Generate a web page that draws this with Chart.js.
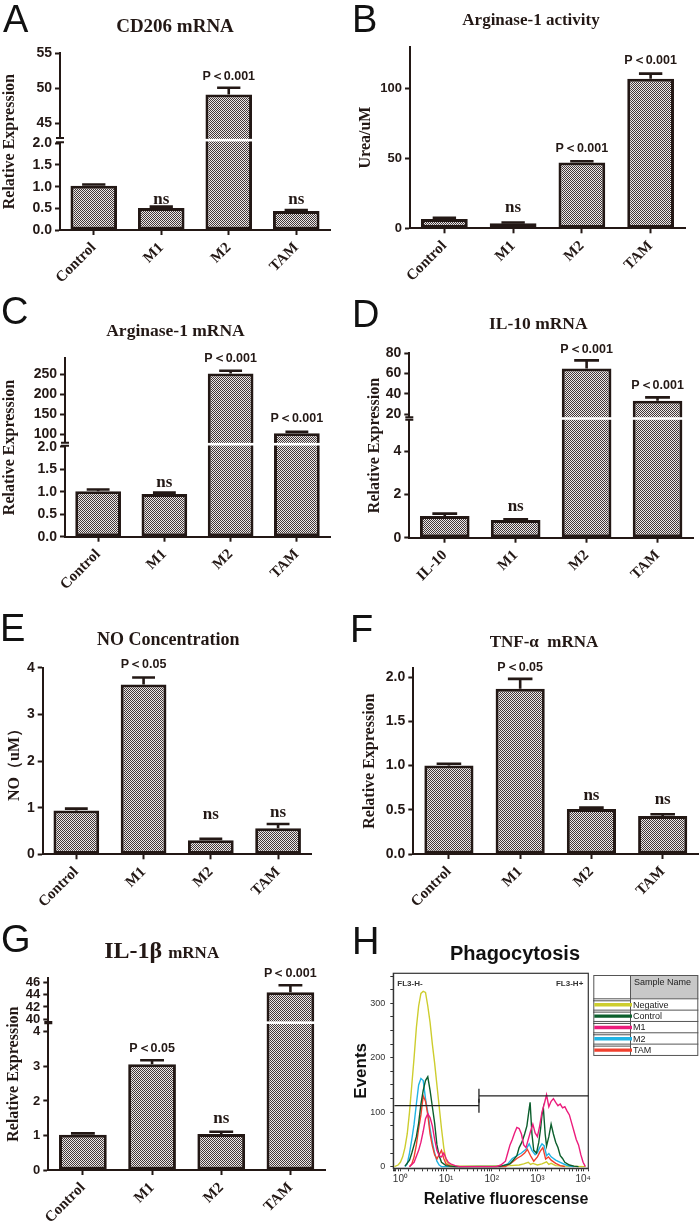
<!DOCTYPE html>
<html><head><meta charset="utf-8">
<script src="https://cdn.jsdelivr.net/npm/chart.js@4.4.1/dist/chart.umd.min.js"></script>
<style>
html,body{margin:0;padding:0;background:#fff;}
#fig{position:relative;width:700px;height:1222px;overflow:hidden;background:#fff;}
#fig canvas{position:absolute;}
.lbl{position:absolute;font-family:"Liberation Sans",Arial,sans-serif;font-size:38px;line-height:38px;color:#111;white-space:nowrap;}
.ttl{position:absolute;font-family:"Liberation Serif","Times New Roman",serif;font-weight:bold;color:#231815;white-space:nowrap;transform:translateX(-50%);}
</style></head><body>
<div id="fig">
<canvas id="cA" width="350" height="290" style="left:0px;top:0px"></canvas>
<canvas id="cB" width="350" height="290" style="left:350px;top:0px"></canvas>
<canvas id="cC" width="350" height="310" style="left:0px;top:290px"></canvas>
<canvas id="cD" width="350" height="310" style="left:350px;top:290px"></canvas>
<canvas id="cE" width="350" height="310" style="left:0px;top:600px"></canvas>
<canvas id="cF" width="350" height="310" style="left:350px;top:600px"></canvas>
<canvas id="cG" width="350" height="312" style="left:0px;top:910px"></canvas>
<canvas id="cH" width="350" height="312" style="left:350px;top:910px"></canvas>

<div class="lbl" style="left:3px;top:0px">A</div>
<div class="lbl" style="left:352px;top:0px">B</div>
<div class="lbl" style="left:1px;top:292px">C</div>
<div class="lbl" style="left:352px;top:295px">D</div>
<div class="lbl" style="left:0px;top:609px">E</div>
<div class="lbl" style="left:350px;top:610px">F</div>
<div class="lbl" style="left:1px;top:920px">G</div>
<div class="lbl" style="left:352px;top:922px">H</div>

<div class="ttl" style="left:175px;top:15.8px;font-size:19px;line-height:19px">CD206 mRNA</div>
<div class="ttl" style="left:531px;top:10.8px;font-size:17px;line-height:17px">Arginase-1 activity</div>
<div class="ttl" style="left:175.5px;top:322px;font-size:17.5px;line-height:17.5px">Arginase-1 mRNA</div>
<div class="ttl" style="left:538.3px;top:315.3px;font-size:17.5px;line-height:17.5px">IL-10 mRNA</div>
<div class="ttl" style="left:168.3px;top:629.9px;font-size:18px;line-height:18px">NO Concentration</div>
<div class="ttl" style="left:544px;top:632.5px;font-size:17px;line-height:17px">TNF-α&nbsp; mRNA</div>
<div class="ttl" style="left:161.7px;top:938.2px;font-size:24px;line-height:24px">IL-1β <span style="font-size:17px;line-height:1">mRNA</span></div>
<div class="ttl" style="left:515px;top:943.1px;font-size:20px;line-height:20px;font-family:'Liberation Sans',Arial,sans-serif;color:#111">Phagocytosis</div>
</div>
<script>
// ================= DATA =================
const catsStd = ['Control', 'M1', 'M2', 'TAM'];
const catsIL10 = ['IL-10', 'M1', 'M2', 'TAM'];

// A  CD206 mRNA
const valA = [1.02, 0.51, 49.1, 0.44];
const semA = [0.03, 0.03, 0.95, 0.02];
const annA = ['', 'ns', 'P＜0.001', 'ns'];
const annYA = [0, 0.6, 51.2, 0.6];
const ticksA = [0, 0.5, 1.0, 1.5, 2.0, 45, 50, 55];
const tickLblA = ['0.0', '0.5', '1.0', '1.5', '2.0', '45', '50', '55'];

// B  Arginase-1 activity
const valB = [6.6, 3.6, 47.1, 107.1];
const semB = [1.0, 0.5, 0.9, 3.6];
const annB = ['', 'ns', 'P＜0.001', 'P＜0.001'];
const annYB = [0, 11.4, 54.7, 117.4];
const ticksB = [0, 50, 100];
const tickLblB = ['0', '50', '100'];

// C  Arginase-1 mRNA
const valC = [1.01, 0.95, 252, 103];
const semC = [0.04, 0.03, 7, 3.5];
const annC = ['', 'ns', 'P＜0.001', 'P＜0.001'];
const annYC = [0, 1.11, 281.5, 130.4];
const ticksC = [0, 0.5, 1.0, 1.5, 2.0, 100, 150, 200, 250];
const tickLblC = ['0.0', '0.5', '1.0', '1.5', '2.0', '100', '150', '200', '250'];

// D  IL-10 mRNA
const valD = [1.0, 0.82, 65, 33.3];
const semD = [0.11, 0.03, 8, 3.3];
const annD = ['', 'ns', 'P＜0.001', 'P＜0.001'];
const annYD = [0, 1.25, 80.6, 44.6];
const ticksD = [0, 2, 4, 20, 40, 60, 80];
const tickLblD = ['0', '2', '4', '20', '40', '60', '80'];

// E  NO Concentration
const valE = [0.94, 3.64, 0.3, 0.56];
const semE = [0.04, 0.15, 0.03, 0.09];
const annE = ['', 'P＜0.05', 'ns', 'ns'];
const annYE = [0, 4.0, 0.756, 0.806];
const ticksE = [0, 1, 2, 3, 4];
const tickLblE = ['0', '1', '2', '3', '4'];

// F  TNF-a mRNA
const valF = [1.0, 1.87, 0.51, 0.43];
const semF = [0.02, 0.11, 0.015, 0.02];
const annF = ['', 'P＜0.05', 'ns', 'ns'];
const annYF = [0, 2.067, 0.609, 0.564];
const ticksF = [0, 0.5, 1.0, 1.5, 2.0];
const tickLblF = ['0.0', '0.5', '1.0', '1.5', '2.0'];

// G  IL-1b mRNA
const valG = [1.02, 3.06, 1.04, 44.4];
const semG = [0.04, 0.12, 0.07, 1.15];
const annG = ['', 'P＜0.05', 'ns', 'P＜0.001'];
const annYG = [0, 3.43, 1.35, 46.96];
const ticksG = [0, 1, 2, 3, 4, 40, 42, 44, 46];
const tickLblG = ['0', '1', '2', '3', '4', '40', '42', '44', '46'];

// H  Phagocytosis histograms: position in decades (log10 of fluorescence) and event counts
const negD = [-0.13,-0.05,0.0,0.05,0.1,0.15,0.2,0.25,0.3,0.35,0.4,0.45,0.5,0.55,0.6,0.65,0.7,0.75,0.8,0.85,0.9,0.95,1.0,1.05,1.1,1.2,1.5,2.0,2.4,2.6,2.7,2.8,2.85,2.9,3.0,3.1,3.2,3.25,3.3,3.4,3.6,4.05];
const negV = [0,3,8,18,35,60,100,150,200,255,295,318,322,320,295,265,225,190,150,110,70,35,12,5,3,1,1,1,2,3,5,8,4,6,3,5,9,4,6,2,1,0];
const ctrlD = [0.1,0.2,0.25,0.3,0.35,0.4,0.45,0.5,0.55,0.6,0.65,0.7,0.75,0.8,0.85,0.9,1.0,1.2,2.2,2.4,2.5,2.55,2.6,2.66,2.72,2.77,2.81,2.84,2.88,2.92,2.98,3.03,3.07,3.1,3.13,3.17,3.2,3.25,3.3,3.35,3.4,3.45,3.5,3.55,3.6,3.7,3.8,3.9];
const ctrlV = [1,12,25,40,55,80,115,140,158,165,140,110,80,40,20,8,2,0,1,5,15,20,35,45,60,75,100,118,60,30,25,45,70,95,108,60,38,55,78,60,45,35,20,15,8,3,1,0];
const m1D = [0.2,0.3,0.4,0.45,0.5,0.55,0.6,0.65,0.7,0.75,0.8,0.85,0.9,0.95,1.0,1.05,1.1,1.2,1.3,2.1,2.2,2.3,2.35,2.4,2.45,2.5,2.55,2.6,2.65,2.7,2.75,2.8,2.85,2.9,2.95,3.0,3.05,3.1,3.15,3.2,3.25,3.3,3.35,3.4,3.45,3.5,3.55,3.6,3.65,3.7,3.75,3.8,3.85,3.9,3.95,4.0,4.05];
const m1V = [0,8,30,45,65,88,97,90,75,50,30,20,18,25,15,8,5,2,0,0,3,10,25,40,50,62,72,70,60,40,35,50,65,78,62,55,75,100,115,132,110,120,125,118,112,115,108,110,102,95,80,65,50,40,22,8,0];
const m2D = [0.1,0.15,0.2,0.25,0.3,0.35,0.4,0.45,0.5,0.55,0.6,0.65,0.7,0.75,0.8,0.85,0.9,2.2,2.35,2.45,2.55,2.65,2.75,2.82,2.88,2.95,3.0,3.05,3.1,3.15,3.2,3.25,3.3,3.4,3.5,3.6,3.7,3.8];
const m2V = [0,5,25,50,78,115,150,162,158,125,100,70,45,25,10,3,0,0,5,15,20,25,32,42,30,22,26,35,42,38,20,24,18,12,8,4,1,0];
const tamD = [0.2,0.25,0.3,0.35,0.4,0.45,0.5,0.55,0.6,0.65,0.7,0.75,0.8,0.85,0.9,0.95,1.0,1.1,2.3,2.45,2.55,2.65,2.72,2.78,2.85,2.92,3.0,3.06,3.12,3.18,3.24,3.3,3.4,3.5,3.6];
const tamV = [0,5,18,40,70,95,130,120,95,60,38,22,14,22,30,15,5,0,0,8,15,20,25,32,20,10,18,28,35,14,18,12,6,2,0];
const hNames = ['Negative', 'Control', 'M1', 'M2', 'TAM'];
const hColors = ['#cdcd2e', '#0b5e2c', '#ec1c7c', '#20b4e4', '#f0402e'];
const hDecades = [negD, ctrlD, m1D, m2D, tamD];
const hCounts = [negV, ctrlV, m1V, m2V, tamV];
const hTopFirst = ['M1', 'Control', 'TAM', 'M2', 'Negative'];
const hYTicks = [0,25,50,75,100,125,150,175,200,225,250,275,300,325,350];
const hXLabels = {0: '10⁰', 1: '10¹', 2: '10²', 3: '10³', 4: '10⁴'};
const hGates = [
  {label: 'FL3-H-', from: 0.74, to: 52.5, y: 112, tick: 'end', side: 'left'},
  {label: 'FL3-H+', from: 52.5, to: 13000, y: 130, tick: 'start', side: 'right'}
];

// ================= RENDERING =================
const SERIF = '"Liberation Serif", "Times New Roman", serif';
const SANS = '"Liberation Sans", Arial, Helvetica, sans-serif';
const INK = '#231815';
Chart.defaults.font.family = SANS;
Chart.defaults.color = INK;
Chart.defaults.animation = false;

const BRK = {};
const PANELS = {};

class BrokenScale extends Chart.LinearScale {
  buildTicks() {
    this.start = this.min; this.end = this.max;
    const p = PANELS[this.chart.canvas.id];
    return p.ticks.map(v => ({value: v}));
  }
  _segs(b) {
    const h = this.bottom - this.top;
    const lowPix = this.bottom - h * b.lowFrac;
    return {lowPix, highPix: lowPix - b.gap};
  }
  getPixelForValue(v) {
    const b = BRK[this.chart.canvas.id];
    if (!b) return super.getPixelForValue(v);
    const {lowPix, highPix} = this._segs(b);
    if (v <= b.low) return this.bottom - (v - this.min) / (b.low - this.min) * (this.bottom - lowPix);
    if (v >= b.high) return highPix - (v - b.high) / (this.max - b.high) * (highPix - this.top);
    return lowPix - (v - b.low) / (b.high - b.low) * (lowPix - highPix);
  }
  getValueForPixel(p) {
    const b = BRK[this.chart.canvas.id];
    if (!b) return super.getValueForPixel(p);
    const {lowPix, highPix} = this._segs(b);
    if (p >= lowPix) return this.min + (this.bottom - p) / (this.bottom - lowPix) * (b.low - this.min);
    if (p <= highPix) return b.high + (highPix - p) / (highPix - this.top) * (this.max - b.high);
    return b.low + (lowPix - p) / (lowPix - highPix) * (b.high - b.low);
  }
}
BrokenScale.id = 'broken';
BrokenScale.defaults = {};
Chart.register(BrokenScale);

function makePattern(ctx) {
  const c = document.createElement('canvas'); c.width = 2; c.height = 2;
  const g = c.getContext('2d');
  g.fillStyle = '#ebe9e9'; g.fillRect(0, 0, 2, 2);
  g.fillStyle = '#433737'; g.fillRect(0, 0, 1, 1); g.fillRect(1, 1, 1, 1);
  return ctx.createPattern(c, 'repeat');
}

const barExtras = {
  id: 'barExtras',
  afterDatasetsDraw(chart) {
    const id = chart.canvas.id, P = PANELS[id], b = BRK[id];
    const ctx = chart.ctx, ys = chart.scales.y, a = chart.chartArea;
    const meta = chart.getDatasetMeta(0);
    ctx.save();
    // error bars (mean + SEM, upper only)
    ctx.strokeStyle = INK; ctx.lineWidth = 2.6; ctx.lineCap = 'butt';
    meta.data.forEach((el, i) => {
      const top = ys.getPixelForValue(P.values[i] + P.sem[i]);
      const half = el.width * 0.25;
      ctx.beginPath();
      ctx.moveTo(el.x, el.y); ctx.lineTo(el.x, top);
      ctx.moveTo(el.x - half, top); ctx.lineTo(el.x + half, top);
      ctx.stroke();
    });
    // axis break
    if (b) {
      const lowPix = ys.getPixelForValue(b.low), highPix = ys.getPixelForValue(b.high);
      const mid = (lowPix + highPix) / 2;
      ctx.fillStyle = '#fff';
      meta.data.forEach((el, i) => {
        if (P.values[i] > b.low) ctx.fillRect(el.x - el.width / 2 - 1, mid - 1.3, el.width + 2, 2.6);
      });
      ctx.fillRect(a.left - 3, highPix + 1, 6, lowPix - highPix - 2);
      ctx.strokeStyle = INK; ctx.lineWidth = 2;
      ctx.beginPath();
      ctx.moveTo(a.left - 4, highPix + 1); ctx.lineTo(a.left + 4, highPix + 1);
      ctx.moveTo(a.left - 4, lowPix - 1); ctx.lineTo(a.left + 4, lowPix - 1);
      ctx.stroke();
    }
    // significance labels
    ctx.fillStyle = INK; ctx.textAlign = 'center'; ctx.textBaseline = 'alphabetic';
    meta.data.forEach((el, i) => {
      const t = P.ann[i];
      if (!t) return;
      ctx.font = t === 'ns' ? 'bold 17px ' + SERIF : 'bold 12.5px ' + SANS;
      ctx.fillText(t, el.x, ys.getPixelForValue(P.annY[i]));
    });
    ctx.restore();
  }
};

function barChart(id, p) {
  PANELS[id] = p;
  if (p.brk) BRK[id] = p.brk;
  const cv = document.getElementById(id);
  const ctx = cv.getContext('2d');
  const axisGrid = {drawOnChartArea: false, drawTicks: true, tickLength: 5, tickWidth: 2, tickColor: INK, offset: false};
  const axisBorder = {display: true, color: INK, width: 2};
  return new Chart(ctx, {
    type: 'bar',
    data: {labels: p.cats, datasets: [{
      data: p.values, backgroundColor: makePattern(ctx), borderColor: INK, borderWidth: 3,
      borderSkipped: false, categoryPercentage: p.catPct, barPercentage: 1
    }]},
    options: {
      responsive: false, animation: false, events: [],
      layout: {autoPadding: false, padding: {left: 0, top: p.padTop, right: p.padRight, bottom: 0}},
      plugins: {legend: {display: false}, tooltip: {enabled: false}, title: {display: false}},
      scales: {
        x: {
          type: 'category', grid: axisGrid, border: axisBorder,
          ticks: {font: {family: SERIF, size: 15, weight: 'bold'}, color: INK, minRotation: 45, maxRotation: 45, padding: 4, autoSkip: false},
          afterFit: s => { s.height = p.xH; s.paddingLeft = s.paddingRight = 0; }
        },
        y: {
          type: 'broken', position: 'left', min: 0, max: p.max, grid: axisGrid, border: axisBorder,
          ticks: {font: {family: SANS, size: p.tickSize, weight: 'bold'}, color: INK, padding: 3, autoSkip: false,
                  callback: (v, i) => p.tickLabels[i]},
          title: {display: true, text: p.yTitle, color: INK, font: {family: SERIF, size: 16, weight: 'bold'}, padding: {top: p.yTitlePad, bottom: 0}},
          afterFit: s => { s.width = p.yW; s.paddingTop = s.paddingBottom = 0; }
        }
      }
    },
    plugins: [barExtras]
  });
}

barChart('cA', {cats: catsStd, values: valA, sem: semA, ann: annA, annY: annYA, ticks: ticksA, tickLabels: tickLblA,
  max: 55, brk: {low: 2, high: 43, lowFrac: 0.4907, gap: 6.3}, yTitle: 'Relative Expression',
  yW: 60, xH: 60, padTop: 53.3, padRight: 20, yTitlePad: 0.4, catPct: 0.69, tickSize: 14});
barChart('cB', {cats: catsStd, values: valB, sem: semB, ann: annB, annY: annYB, ticks: ticksB, tickLabels: tickLblB,
  max: 130, brk: null, yTitle: 'Urea/uM',
  yW: 60, xH: 61.7, padTop: 46.7, padRight: 15, yTitlePad: 6.4, catPct: 0.68, tickSize: 13});
barChart('cC', {cats: catsStd, values: valC, sem: semC, ann: annC, annY: annYC, ticks: ticksC, tickLabels: tickLblC,
  max: 290, brk: {low: 2, high: 82, lowFrac: 0.5045, gap: 5}, yTitle: 'Relative Expression',
  yW: 65, xH: 63.3, padTop: 68.3, padRight: 20, yTitlePad: 0.4, catPct: 0.69, tickSize: 14});
barChart('cD', {cats: catsIL10, values: valD, sem: semD, ann: annD, annY: annYD, ticks: ticksD, tickLabels: tickLblD,
  max: 80, brk: {low: 5.4, high: 18, lowFrac: 0.6345, gap: 4.4}, yTitle: 'Relative Expression',
  yW: 59.3, xH: 62.3, padTop: 63.3, padRight: 7, yTitlePad: 15.4, catPct: 0.70, tickSize: 14});
barChart('cE', {cats: catsStd, values: valE, sem: semE, ann: annE, annY: annYE, ticks: ticksE, tickLabels: tickLblE,
  max: 4, brk: null, yTitle: 'NO（uM）',
  yW: 42.7, xH: 55.7, padTop: 67.7, padRight: 38.3, yTitlePad: 5.4, catPct: 0.68, tickSize: 14});
barChart('cF', {cats: catsStd, values: valF, sem: semF, ann: annF, annY: annYF, ticks: ticksF, tickLabels: tickLblF,
  max: 2.1, brk: null, yTitle: 'Relative Expression',
  yW: 63.3, xH: 56, padTop: 68.3, padRight: 1.7, yTitlePad: 10.4, catPct: 0.69, tickSize: 14});
barChart('cG', {cats: catsStd, values: valG, sem: semG, ann: annG, annY: annYG, ticks: ticksG, tickLabels: tickLblG,
  max: 46.7, brk: {low: 4.22, high: 39.7, lowFrac: 0.76, gap: 3.3}, yTitle: 'Relative Expression',
  yW: 48.3, xH: 52, padTop: 68.3, padRight: 25, yTitlePad: 3.9, catPct: 0.69, tickSize: 13});

// ---------- Panel H ----------
const hExtras = {
  id: 'hExtras',
  afterDraw(chart) {
    const {ctx, chartArea: a} = chart;
    const x = chart.scales.x, y = chart.scales.y;
    ctx.save();
    ctx.strokeStyle = '#333'; ctx.lineWidth = 1.2;
    ctx.strokeRect(a.left, a.top, a.right - a.left, a.bottom - a.top);
    // gates
    hGates.forEach(g => {
      const x1 = x.getPixelForValue(g.from), x2 = x.getPixelForValue(g.to), yy = y.getPixelForValue(g.y);
      ctx.strokeStyle = '#222'; ctx.lineWidth = 1.3;
      ctx.beginPath(); ctx.moveTo(x1, yy); ctx.lineTo(x2, yy);
      const tx = g.tick === 'end' ? x2 : x1;
      ctx.moveTo(tx, yy - 7); ctx.lineTo(tx, yy + 7); ctx.stroke();
      ctx.font = 'bold 8px ' + SANS; ctx.fillStyle = '#333'; ctx.textBaseline = 'alphabetic';
      ctx.textAlign = g.side === 'left' ? 'left' : 'right';
      ctx.fillText(g.label, g.side === 'left' ? a.left + 4 : a.right - 5, a.top + 13);
    });
    // legend table
    const x0 = 243.3, x1 = 348.3, xs = 280, y0 = 65, yh = 88.3, rh = 11.33;
    const y1 = yh + rh * hNames.length;
    ctx.fillStyle = '#c8c8c8'; ctx.fillRect(xs, y0, x1 - xs, yh - y0);
    ctx.strokeStyle = '#555'; ctx.lineWidth = 1;
    ctx.strokeRect(x0 + 0.5, y0 + 0.5, x1 - x0 - 1, y1 - y0);
    ctx.beginPath(); ctx.moveTo(xs + 0.5, y0); ctx.lineTo(xs + 0.5, y1); ctx.stroke();
    ctx.font = '9px ' + SANS; ctx.fillStyle = '#222'; ctx.textAlign = 'left'; ctx.textBaseline = 'alphabetic';
    ctx.fillText('Sample Name', xs + 4, y0 + 9.5);
    hNames.forEach((n, i) => {
      const ry = yh + i * rh;
      ctx.strokeStyle = '#555'; ctx.lineWidth = 1;
      ctx.beginPath(); ctx.moveTo(x0, ry + 0.5); ctx.lineTo(x1, ry + 0.5); ctx.stroke();
      ctx.strokeStyle = '#222'; ctx.lineWidth = 0.8;
      ctx.beginPath(); ctx.moveTo(x0, ry + 2.5); ctx.lineTo(xs, ry + 2.5); ctx.stroke();
      ctx.strokeStyle = hColors[i]; ctx.lineWidth = 3.4;
      ctx.beginPath(); ctx.moveTo(x0 + 1, ry + 6.5); ctx.lineTo(xs + 2, ry + 6.5); ctx.stroke();
      ctx.fillStyle = '#222';
      ctx.fillText(n, xs + 3, ry + 9.3);
    });
    ctx.restore();
  }
};

const hDatasets = hTopFirst.map(name => {
  const i = hNames.indexOf(name);
  return {
    label: name,
    data: hDecades[i].map((d, k) => ({x: Math.pow(10, d), y: hCounts[i][k]})),
    borderColor: hColors[i], borderWidth: 1.4, pointRadius: 0, tension: 0, fill: false
  };
});

new Chart(document.getElementById('cH').getContext('2d'), {
  type: 'line',
  data: {datasets: hDatasets},
  options: {
    responsive: false, animation: false, events: [],
    layout: {autoPadding: false, padding: {left: 0, top: 63.3, right: 111.7, bottom: 0}},
    plugins: {legend: {display: false}, tooltip: {enabled: false}},
    scales: {
      x: {
        type: 'logarithmic', min: 0.74, max: 13000,
        grid: {drawOnChartArea: false, drawTicks: true, tickLength: 3, tickWidth: 1, tickColor: '#333'},
        border: {display: true, color: '#333', width: 1.2},
        ticks: {autoSkip: false, maxRotation: 0, minRotation: 0, font: {family: SANS, size: 10}, color: '#333', padding: 2,
          callback: v => { const e = Math.log10(v); return Math.abs(e - Math.round(e)) < 1e-6 && hXLabels[Math.round(e)] ? hXLabels[Math.round(e)] : ''; }},
        title: {display: true, text: 'Relative fluorescense', align: 'end', color: '#111', font: {family: SANS, size: 16, weight: 'bold'}, padding: {top: 0, bottom: 13}},
        afterFit: s => { s.height = 53.7; s.paddingLeft = s.paddingRight = 0; }
      },
      y: {
        type: 'linear', min: -3, max: 355,
        afterBuildTicks: s => { s.ticks = hYTicks.map(v => ({value: v})); },
        grid: {drawOnChartArea: false, drawTicks: true, tickLength: 3, tickWidth: 1, tickColor: '#333'},
        border: {display: true, color: '#333', width: 1.2},
        ticks: {autoSkip: false, font: {family: SANS, size: 9}, color: '#333', padding: 5,
          callback: v => (v % 100 === 0 ? String(v) : '')},
        title: {display: true, text: 'Events', color: '#111', font: {family: SANS, size: 17, weight: 'bold'}, padding: {top: 1.5, bottom: 0}},
        afterFit: s => { s.width = 43.3; s.paddingTop = s.paddingBottom = 0; }
      }
    }
  },
  plugins: [hExtras]
});
</script>
</body></html>
